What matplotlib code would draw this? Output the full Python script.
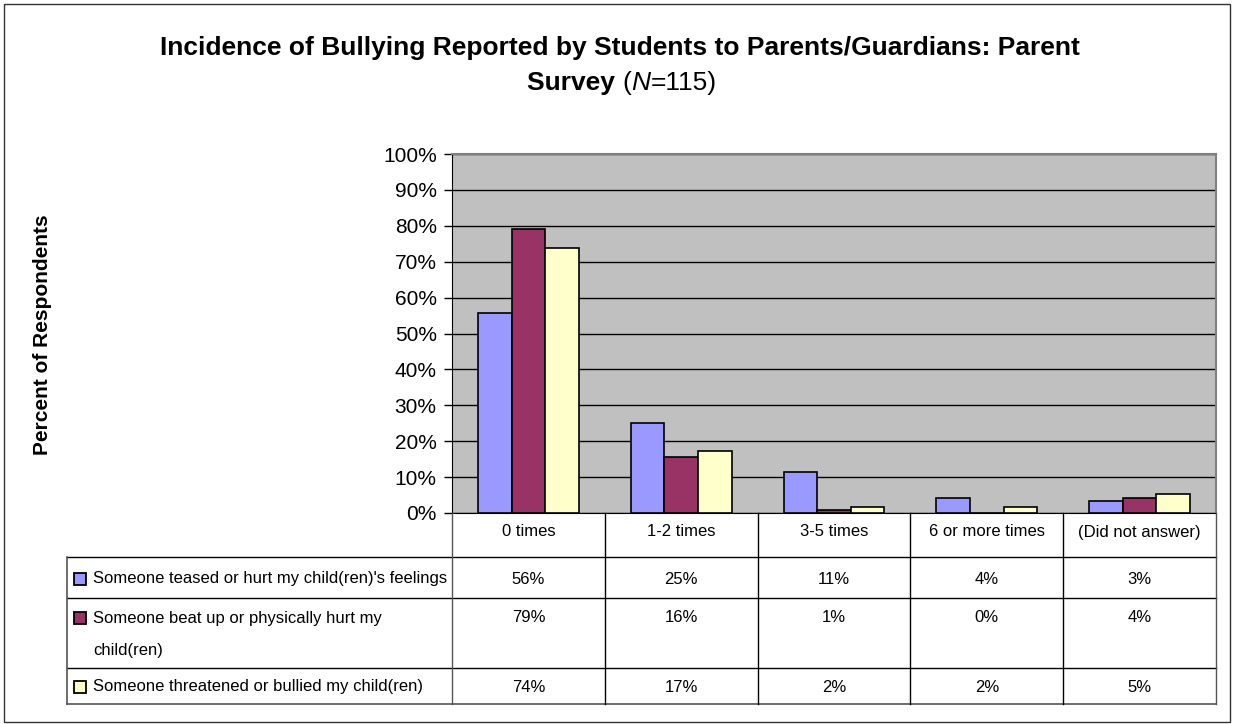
import matplotlib
matplotlib.use("Agg")
import matplotlib.pyplot as plt
import numpy as np
from matplotlib.lines import Line2D
from matplotlib.patches import Rectangle
import matplotlib.transforms as mtransforms

plt.rcParams['font.family'] = ['Liberation Sans', 'DejaVu Sans']

categories = ["0 times", "1-2 times", "3-5 times", "6 or more times", "(Did not answer)"]
series_names = ["Someone teased or hurt my child(ren)'s feelings",
                "Someone beat up or physically hurt my\nchild(ren)",
                "Someone threatened or bullied my child(ren)"]
teased = [55.7, 25.2, 11.3, 4.3, 3.4]
beat_up = [79.1, 15.7, 0.9, 0.0, 4.3]
threatened = [73.9, 17.4, 1.7, 1.7, 5.2]
series_vals = [teased, beat_up, threatened]
colors = ["#9999FF", "#993366", "#FFFFCC"]

W, H = 1233, 724
fig = plt.figure(figsize=(W / 100, H / 100), dpi=100)

def fx(x):
    return x / W

def fy(y):
    return 1 - y / H

# outer chart border
fig.patches.append(Rectangle((fx(4), fy(722)), fx(1230) - fx(4), fy(4) - fy(722),
                             transform=fig.transFigure, fill=False, ec="#333333", lw=1))

ax = fig.add_axes([fx(452), fy(513), fx(1216) - fx(452), fy(154) - fy(513)])
ax.set_facecolor("#C0C0C0")
x = np.arange(len(categories))
bw = 0.22
for i, vals in enumerate(series_vals):
    ax.bar(x + (i - 1) * bw, vals, bw, color=colors[i], edgecolor="black", lw=1.2, zorder=3)
ax.set_xlim(-0.5, len(categories) - 0.5)
ax.set_ylim(0, 100)
ax.set_yticks(np.arange(0, 101, 10))
ax.set_yticklabels([f"{v}%" for v in range(0, 101, 10)], fontsize=15)
ax.yaxis.grid(True, color="black", lw=1, zorder=1)
ax.set_axisbelow(True)
ax.set_xticks([])
ax.tick_params(axis="y", length=6, width=1, pad=5, direction="out")
for s in ["top", "right"]:
    ax.spines[s].set_color("#808080")
    ax.spines[s].set_linewidth(1.5)
ax.spines["left"].set_color("black")
ax.spines["bottom"].set_color("black")

# title
fig.text(fx(620), fy(55), "Incidence of Bullying Reported by Students to Parents/Guardians: Parent",
         ha="center", va="baseline", fontsize=19, fontweight="bold")
renderer = fig.canvas.get_renderer()
parts = [("Survey ", dict(fontweight="bold")), ("(", {}), ("N", dict(style="italic")), ("=115)", {})]
objs = []
for txt, kw in parts:
    objs.append(fig.text(0, fy(90), txt, ha="left", va="baseline", fontsize=19, **kw))
widths = [o.get_window_extent(renderer).width for o in objs]
start = 622 - sum(widths) / 2
for o, w in zip(objs, widths):
    o.set_x(fx(start))
    start += w

fig.text(fx(43), fy(335), "Percent of Respondents", rotation=90, ha="center", va="center",
         fontsize=15, fontweight="bold")

# data table below the axis
blend = mtransforms.blended_transform_factory(ax.transData, fig.transFigure)
row_lines = [557, 598, 668]
for yy in row_lines:
    fig.lines.append(Line2D([fx(67), fx(1216)], [fy(yy), fy(yy)], transform=fig.transFigure,
                            color="black", lw=1))
fig.lines.append(Line2D([fx(67), fx(1216)], [fy(704), fy(704)], transform=fig.transFigure,
                        color="#555555", lw=1.2))
fig.lines.append(Line2D([fx(67), fx(67)], [fy(557), fy(704)], transform=fig.transFigure,
                        color="#555555", lw=1.2))
for b in np.arange(-0.5, len(categories), 1.0):
    c = "#555555" if b in (-0.5, len(categories) - 0.5) else "black"
    fig.lines.append(Line2D([b, b], [fy(513), fy(704)], transform=blend, color=c, lw=1))

for i, cat in enumerate(categories):
    fig.text(i, fy(532), cat, transform=blend, ha="center", va="center", fontsize=12)

value_y = [579, 618, 687]
for r, vals in enumerate(series_vals):
    for i, v in enumerate(vals):
        fig.text(i, fy(value_y[r]), f"{round(v):.0f}%", transform=blend, ha="center",
                 va="center", fontsize=12)
    fig.patches.append(Rectangle((fx(74), fy(value_y[r] + 6)), fx(12), 12 / H,
                                 transform=fig.transFigure, fc=colors[r], ec="black", lw=1.3))
    lines = series_names[r].split("\n")
    for k, ln in enumerate(lines):
        fig.text(fx(93), fy(value_y[r] + 32 * k), ln, ha="left", va="center", fontsize=12)

fig.savefig("out.png", dpi=100)
